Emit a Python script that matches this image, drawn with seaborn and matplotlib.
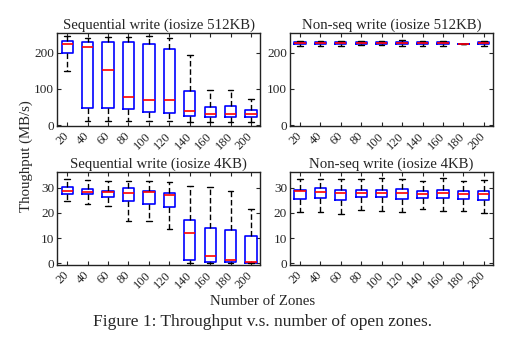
import numpy as np
import pandas as pd
import matplotlib
matplotlib.use("Agg")
import matplotlib.pyplot as plt
import seaborn as sns

zones = [20, 40, 60, 80, 100, 120, 140, 160, 180, 200]

# five-number summaries (whisker low, q1, median, q3, whisker high)
seq512_lo = [150, 11, 11, 11, 11, 11, 8, 8, 8, 8]
seq512_q1 = [198, 49, 47, 44, 36, 33, 25, 22, 22, 22]
seq512_med = [224, 215, 151, 77, 70, 70, 39, 30, 30, 30]
seq512_q3 = [231, 228, 228, 228, 223, 211, 94, 51, 52, 41]
seq512_hi = [246, 239, 242, 242, 246, 239, 194, 97, 97, 73]

non512_lo = [219, 219, 219, 221, 221, 218, 219, 219, 220, 219]
non512_q1 = [223, 223, 223, 223, 223, 223, 223, 223, 224, 223]
non512_med = [226, 226, 226, 226, 226, 226, 226, 226, 224, 226]
non512_q3 = [229, 229, 229, 229, 229, 229, 229, 229, 224, 229]
non512_hi = [232, 232, 232, 232, 232, 235, 232, 232, 231, 232]

seq4_lo = [24.9, 23.7, 22.9, 17.0, 17.0, 13.8, 0.0, 0.0, 0.0, 0.0]
seq4_q1 = [27.6, 27.4, 26.4, 24.7, 23.7, 22.2, 1.3, 0.4, 0.5, 0.3]
seq4_med = [28.7, 28.4, 28.5, 28.0, 28.2, 27.2, 12.0, 2.8, 1.2, 0.4]
seq4_q3 = [30.4, 29.5, 28.7, 29.9, 28.7, 27.9, 17.2, 14.1, 13.4, 10.7]
seq4_hi = [33.4, 33.0, 32.6, 32.6, 32.6, 32.2, 30.7, 30.4, 28.8, 21.6]

non4_lo = [20.4, 20.4, 19.6, 21.2, 20.8, 20.4, 21.7, 20.8, 20.8, 20.0]
non4_q1 = [25.7, 26.1, 25.3, 26.2, 26.2, 25.7, 26.1, 26.1, 25.7, 25.3]
non4_med = [28.6, 28.4, 28.0, 28.0, 28.0, 28.0, 27.6, 28.0, 27.6, 27.6]
non4_q3 = [29.2, 29.9, 29.2, 29.2, 29.2, 29.5, 28.7, 29.2, 28.7, 28.7]
non4_hi = [33.4, 33.4, 33.4, 33.4, 33.9, 33.4, 32.6, 33.9, 32.6, 33.0]

titles = ["Sequential write (iosize 512KB)", "Non-seq write (iosize 512KB)",
          "Sequential write (iosize 4KB)", "Non-seq write (iosize 4KB)"]


def to_long(lo, q1, med, q3, hi):
    rows = []
    for i, z in enumerate(zones):
        for v in (lo[i], q1[i], med[i], q3[i], hi[i]):
            rows.append({"zones": str(z), "val": v})
    return pd.DataFrame(rows)


panels = [
    to_long(seq512_lo, seq512_q1, seq512_med, seq512_q3, seq512_hi),
    to_long(non512_lo, non512_q1, non512_med, non512_q3, non512_hi),
    to_long(seq4_lo, seq4_q1, seq4_med, seq4_q3, seq4_hi),
    to_long(non4_lo, non4_q1, non4_med, non4_q3, non4_hi),
]

sns.set_style("ticks")
plt.rcParams["font.family"] = ["Liberation Serif", "DejaVu Serif"]
plt.rcParams["axes.edgecolor"] = "#222222"
plt.rcParams["axes.linewidth"] = 1.0

fig = plt.figure(figsize=(5.25, 3.39), dpi=100)
lefts = [0.1086, 0.552]
bottoms = [0.628, 0.218]
w, h = 0.387, 0.274

for k, df in enumerate(panels):
    r, c = divmod(k, 2)
    ax = fig.add_axes([lefts[c], bottoms[r], w, h])
    sns.boxplot(data=df, x="zones", y="val", order=[str(z) for z in zones],
                whis=np.inf, width=0.55, fill=False, color="blue", linewidth=1.2,
                showfliers=False, ax=ax,
                boxprops=dict(color="blue", linewidth=1.2),
                medianprops=dict(color="red", linewidth=1.2),
                whiskerprops=dict(color="black", linewidth=1.0, linestyle=(0, (4, 2))),
                capprops=dict(color="black", linewidth=1.0))
    ax.set_xlim(-0.5, 9.45)
    if r == 0:
        ax.set_ylim(-2, 253)
        ax.set_yticks([0, 100, 200])
    else:
        ax.set_ylim(-0.7, 36.2)
        ax.set_yticks([0, 10, 20, 30])
    ax.set_title(titles[k], fontsize=10.7, pad=3)
    ax.set_xlabel("")
    ax.set_ylabel("")
    ax.tick_params(axis="both", which="both", direction="in", top=True, right=True,
                   labelsize=9.5, length=3, width=0.8, pad=2)
    ax.tick_params(axis="x", labelsize=9, pad=6)
    for lab in ax.get_xticklabels():
        lab.set_rotation(45)
        lab.set_rotation_mode("anchor")
        lab.set_ha("right")
        lab.set_va("center")
    for s in ax.spines.values():
        s.set_visible(True)

fig.text(0.050, 0.54, "Thoughput (MB/s)", rotation=90, ha="center", va="center", fontsize=10.7)
fig.text(0.50, 0.110, "Number of Zones", ha="center", va="center", fontsize=10.7)
fig.text(0.50, 0.05, "Figure 1: Throughput v.s. number of open zones.", ha="center",
         va="center", fontsize=12.5)

fig.savefig("out.png", dpi=100)
